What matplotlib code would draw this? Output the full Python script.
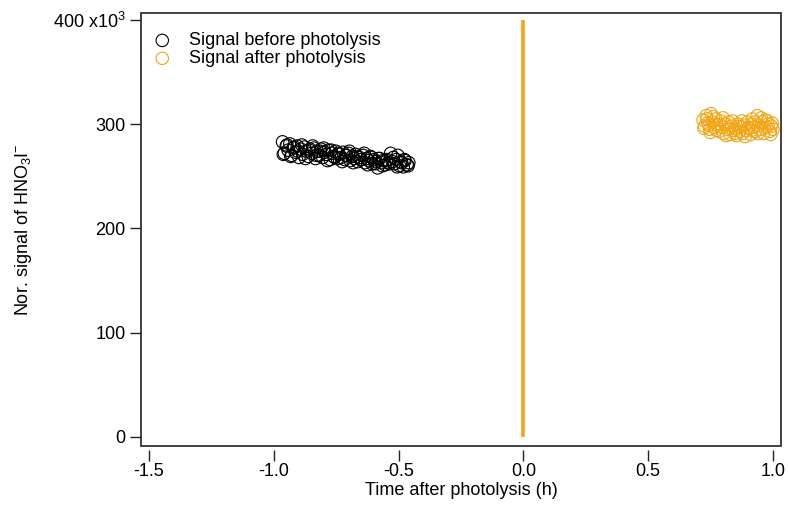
import matplotlib
matplotlib.use("Agg")
import matplotlib.pyplot as plt
from matplotlib.patches import Rectangle

plt.rcParams['font.family'] = ['Liberation Sans', 'DejaVu Sans']
plt.rcParams['mathtext.fontset'] = 'custom'
plt.rcParams['mathtext.rm'] = 'Liberation Sans'
plt.rcParams['mathtext.it'] = 'Liberation Sans:italic'
plt.rcParams['mathtext.bf'] = 'Liberation Sans:bold'

# ---- data (y in units of 10^3) ----
before_x = [-0.965, -0.958, -0.950, -0.943, -0.936, -0.928, -0.921, -0.914, -0.906, -0.899,
            -0.892, -0.884, -0.877, -0.870, -0.862, -0.855, -0.848, -0.840, -0.833, -0.826,
            -0.818, -0.811, -0.804, -0.796, -0.789, -0.782, -0.774, -0.767, -0.760, -0.752,
            -0.745, -0.738, -0.730, -0.723, -0.716, -0.708, -0.701, -0.694, -0.686, -0.679,
            -0.672, -0.664, -0.657, -0.650, -0.642, -0.635, -0.628, -0.620, -0.613, -0.606,
            -0.598, -0.591, -0.584, -0.576, -0.569, -0.562, -0.554, -0.547, -0.540, -0.532,
            -0.525, -0.518, -0.510, -0.503, -0.496, -0.488, -0.481, -0.474, -0.466, -0.459,
            -0.962, -0.947, -0.932, -0.917, -0.903, -0.888, -0.873, -0.858, -0.844, -0.829,
            -0.814, -0.800, -0.785, -0.770, -0.756, -0.741, -0.726, -0.712, -0.697, -0.682,
            -0.668, -0.653, -0.638, -0.624, -0.609, -0.594, -0.580, -0.565, -0.550, -0.536,
            -0.521, -0.506, -0.492, -0.477, -0.462]
before_y = [283, 272, 279, 275, 281, 270, 277, 273, 279, 268,
            276, 271, 278, 274, 269, 276, 272, 277, 267, 274,
            270, 276, 268, 273, 271, 275, 266, 272, 269, 274,
            267, 271, 268, 273, 266, 270, 272, 265, 269, 267,
            271, 264, 268, 266, 270, 263, 267, 265, 269, 262,
            266, 264, 258, 267, 263, 265, 261, 266, 263, 272,
            264, 262, 266, 270, 260, 263, 259, 265, 261, 263,
            271, 280, 269, 278, 274, 280, 267, 275, 279, 270,
            274, 277, 265, 275, 268, 272, 264, 270, 274, 263,
            269, 266, 272, 261, 268, 262, 267, 260, 265, 262,
            268, 259, 264, 266, 260]

after_x = [0.720, 0.726, 0.733, 0.739, 0.746, 0.752, 0.758, 0.765, 0.771, 0.777,
           0.784, 0.790, 0.797, 0.803, 0.809, 0.816, 0.822, 0.828, 0.835, 0.841,
           0.848, 0.854, 0.860, 0.867, 0.873, 0.879, 0.886, 0.892, 0.899, 0.905,
           0.911, 0.918, 0.924, 0.930, 0.937, 0.943, 0.950, 0.956, 0.962, 0.969,
           0.975, 0.981, 0.988, 0.994, 1.000,
           0.723, 0.736, 0.749, 0.762, 0.774, 0.787, 0.800, 0.813, 0.825, 0.838,
           0.851, 0.864, 0.876, 0.889, 0.902, 0.914, 0.927, 0.940, 0.953, 0.966,
           0.978, 0.991, 0.997, 0.744, 0.915]
after_y = [304, 298, 308, 301, 295, 310, 302, 297, 305, 299,
           293, 303, 297, 291, 300, 295, 302, 290, 298, 294,
           296, 289, 300, 293, 297, 291, 299, 294, 302, 296,
           290, 305, 297, 293, 308, 299, 295, 302, 291, 304,
           297, 300, 293, 298, 295,
           296, 305, 292, 307, 294, 300, 306, 289, 296, 303,
           291, 298, 303, 288, 297, 300, 302, 291, 306, 296,
           303, 290, 301, 299, 294]

photolysis_x = [0.0, 0.0]
photolysis_y = [0, 400]

x_ticks = [-1.5, -1.0, -0.5, 0.0, 0.5, 1.0]
x_ticklabels = ['-1.5', '-1.0', '-0.5', '0.0', '0.5', '1.0']
y_ticks = [0, 100, 200, 300, 400]
y_ticklabels = ['0', '100', '200', '300', '400 x10$^{3}$']

orange = '#F2A516'

fig = plt.figure(figsize=(7.88, 5.12), dpi=100)
ax = fig.add_axes([0.179, 0.129, 0.812, 0.846])

ax.plot(photolysis_x, photolysis_y, color=orange, lw=2.6, solid_capstyle='butt', zorder=2)
ax.scatter(before_x, before_y, s=80, facecolors='none', edgecolors='black',
           linewidths=0.8, label='Signal before photolysis', zorder=3)
ax.scatter(after_x, after_y, s=80, facecolors='none', edgecolors=orange,
           linewidths=0.8, label='Signal after photolysis', zorder=3)

ax.set_xlim(-1.532, 1.032)
ax.set_ylim(-8.6, 406.7)
ax.set_xticks(x_ticks)
ax.set_xticklabels(x_ticklabels)
ax.set_yticks(y_ticks)
ax.set_yticklabels(y_ticklabels)

for s in ['top', 'right']:
    ax.spines[s].set_visible(False)
ax.spines['bottom'].set_position(('outward', 3))
ax.spines['bottom'].set_visible(False)
ax.spines['left'].set_visible(False)
ax.add_patch(Rectangle((0, 0), 1, 1, transform=ax.transAxes, fill=False,
                       lw=1.2, edgecolor='#222222', clip_on=False, zorder=5))

ax.tick_params(axis='both', direction='out', length=8, width=1.0, color='#222222',
               labelsize=13, pad=3)
ax.tick_params(axis='x', pad=1)

ax.set_xlabel('Time after photolysis (h)', fontsize=13, labelpad=2)
ax.set_ylabel('Nor. signal of HNO$_3$I$^{-}$', fontsize=13, labelpad=14)

leg = ax.legend(loc='upper left', bbox_to_anchor=(-0.011, 0.972), frameon=False,
                fontsize=13, labelspacing=0.05, handletextpad=0.3,
                handlelength=2.33, borderaxespad=0.0, scatterpoints=1)

fig.savefig('out.png', dpi=100)
